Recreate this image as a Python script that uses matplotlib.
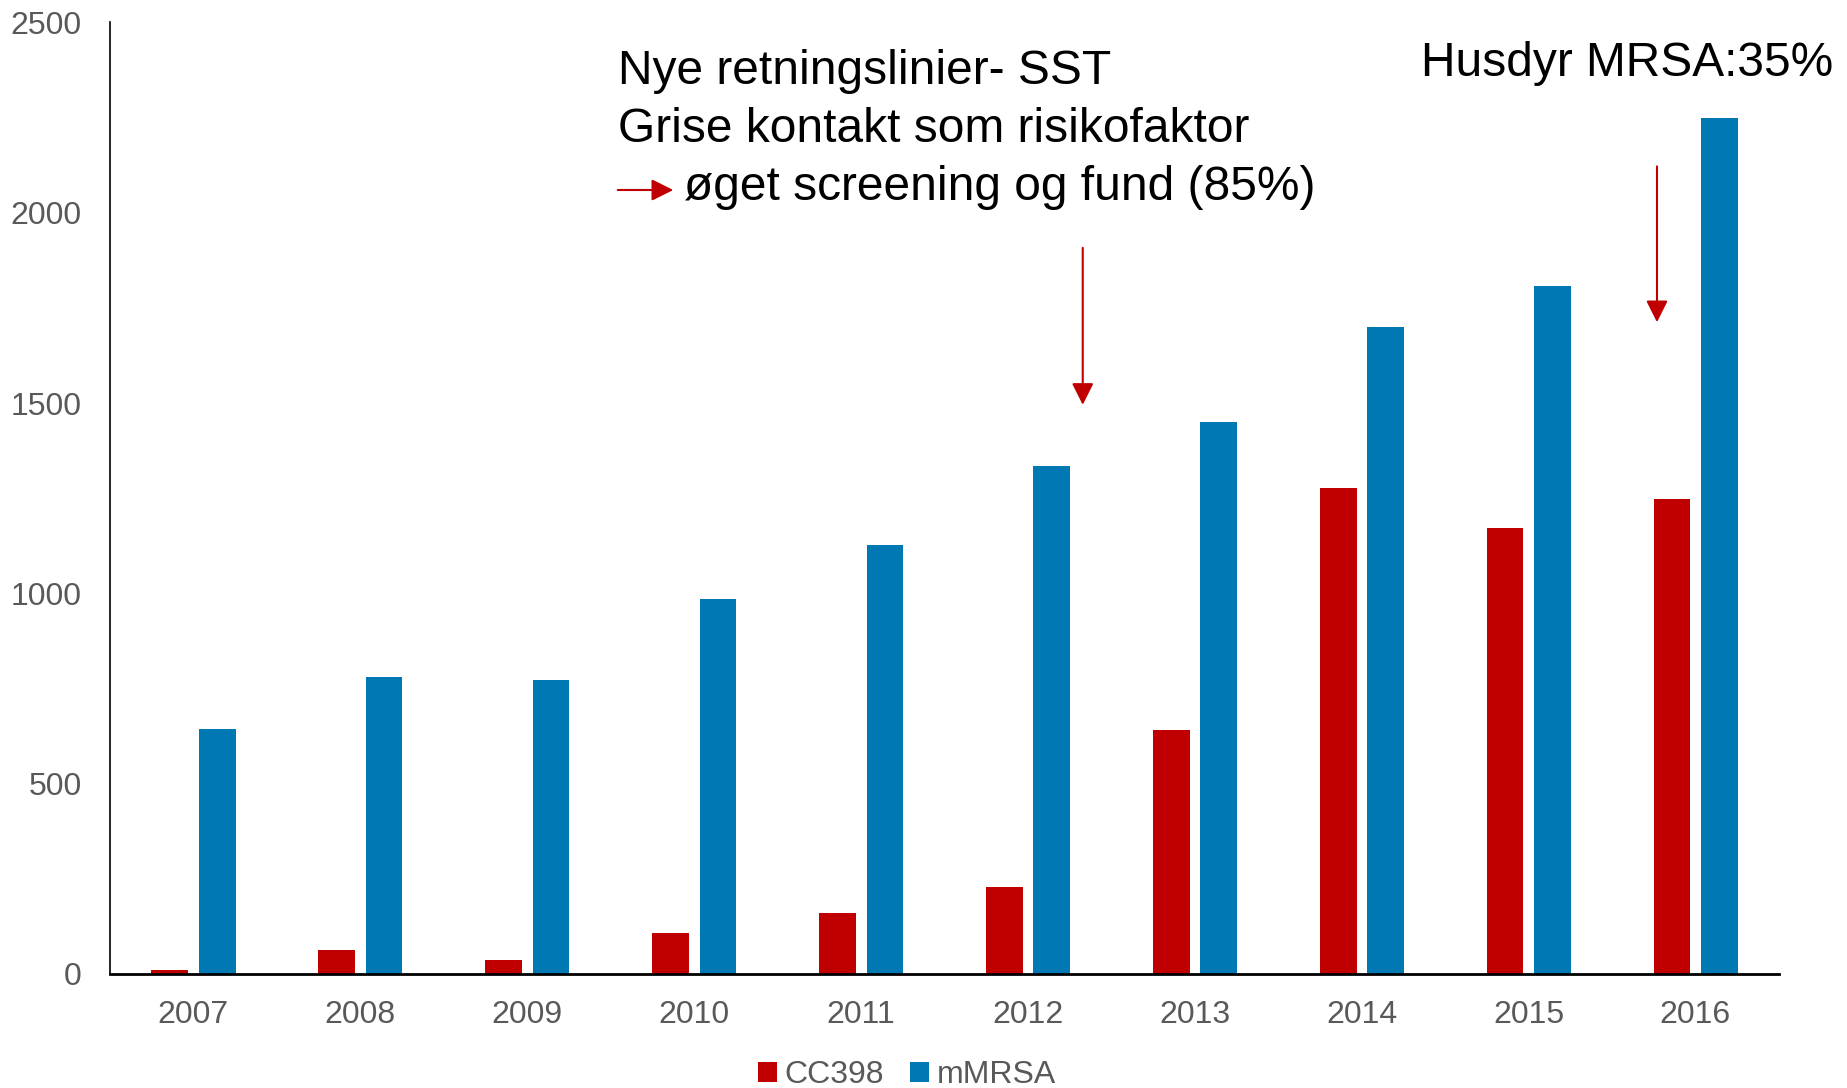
import numpy as np
import matplotlib.pyplot as plt
from matplotlib.patches import FancyArrowPatch

# --- Data ---
YEARS = ['2007', '2008', '2009', '2010', '2011', '2012', '2013', '2014', '2015', '2016']
CC398 = [10, 62, 37, 108, 161, 229, 640, 1278, 1173, 1247]
MMRSA = [643, 780, 773, 984, 1126, 1334, 1451, 1699, 1807, 2249]
Y_TICKS = [0, 500, 1000, 1500, 2000, 2500]

RED = '#C00000'
BLUE = '#0078B3'
GREY = '#595959'

plt.rcParams['font.family'] = ['Liberation Sans', 'DejaVu Sans']

W, H = 1847, 1088
fig = plt.figure(figsize=(W / 100, H / 100), dpi=100)
ax = fig.add_axes([0.0593, 0.1048, 0.9038, 0.8746])

x = np.arange(len(YEARS))
bar_w = 0.22
ax.bar(x - 0.14, CC398, width=bar_w, color=RED, label='CC398')
ax.bar(x + 0.145, MMRSA, width=bar_w, color=BLUE, label='mMRSA')

ax.set_xlim(-0.5, len(YEARS) - 0.5)
ax.set_ylim(0, 2500)
ax.set_yticks(Y_TICKS)
ax.set_xticks(x)
ax.set_xticklabels(YEARS)
ax.tick_params(axis='both', length=0, labelsize=23, labelcolor=GREY)
ax.tick_params(axis='y', pad=20)
ax.tick_params(axis='x', pad=19)

for side in ['top', 'right']:
    ax.spines[side].set_visible(False)
ax.spines['left'].set_linewidth(1.2)
ax.spines['bottom'].set_linewidth(2)

# --- Annotations ---
def px_text(px, py, s):
    fig.text(px / W, 1 - py / H, s, va='center', ha='left', fontsize=34.5, color='black')

px_text(618, 72, 'Nye retningslinier- SST')
px_text(618, 130, 'Grise kontakt som risikofaktor')
px_text(684, 188, 'øget screening og fund (85%)')
px_text(1421, 63, 'Husdyr MRSA:35%')

arrow_kw = dict(arrowstyle='-|>,head_length=0.6,head_width=0.3', color=RED, lw=1.5,
                mutation_scale=22)
fig.add_artist(FancyArrowPatch(
    (615 / W, 1 - 190 / H), (676 / W, 1 - 190 / H), transform=fig.transFigure, **arrow_kw))
ax.annotate('', xy=(5.33, 1488), xytext=(5.33, 1915), arrowprops=arrow_kw)
ax.annotate('', xy=(8.77, 1705), xytext=(8.77, 2129), arrowprops=arrow_kw)

leg = ax.legend(loc='center', bbox_to_anchor=(907 / W, 1 - 1075 / H),
                bbox_transform=fig.transFigure, ncol=2, frameon=False,
                fontsize=23, handlelength=0.6, handleheight=0.6, handletextpad=0.25,
                columnspacing=0.8, borderpad=0)
for t in leg.get_texts():
    t.set_color(GREY)

fig.savefig('out.png', dpi=100)
